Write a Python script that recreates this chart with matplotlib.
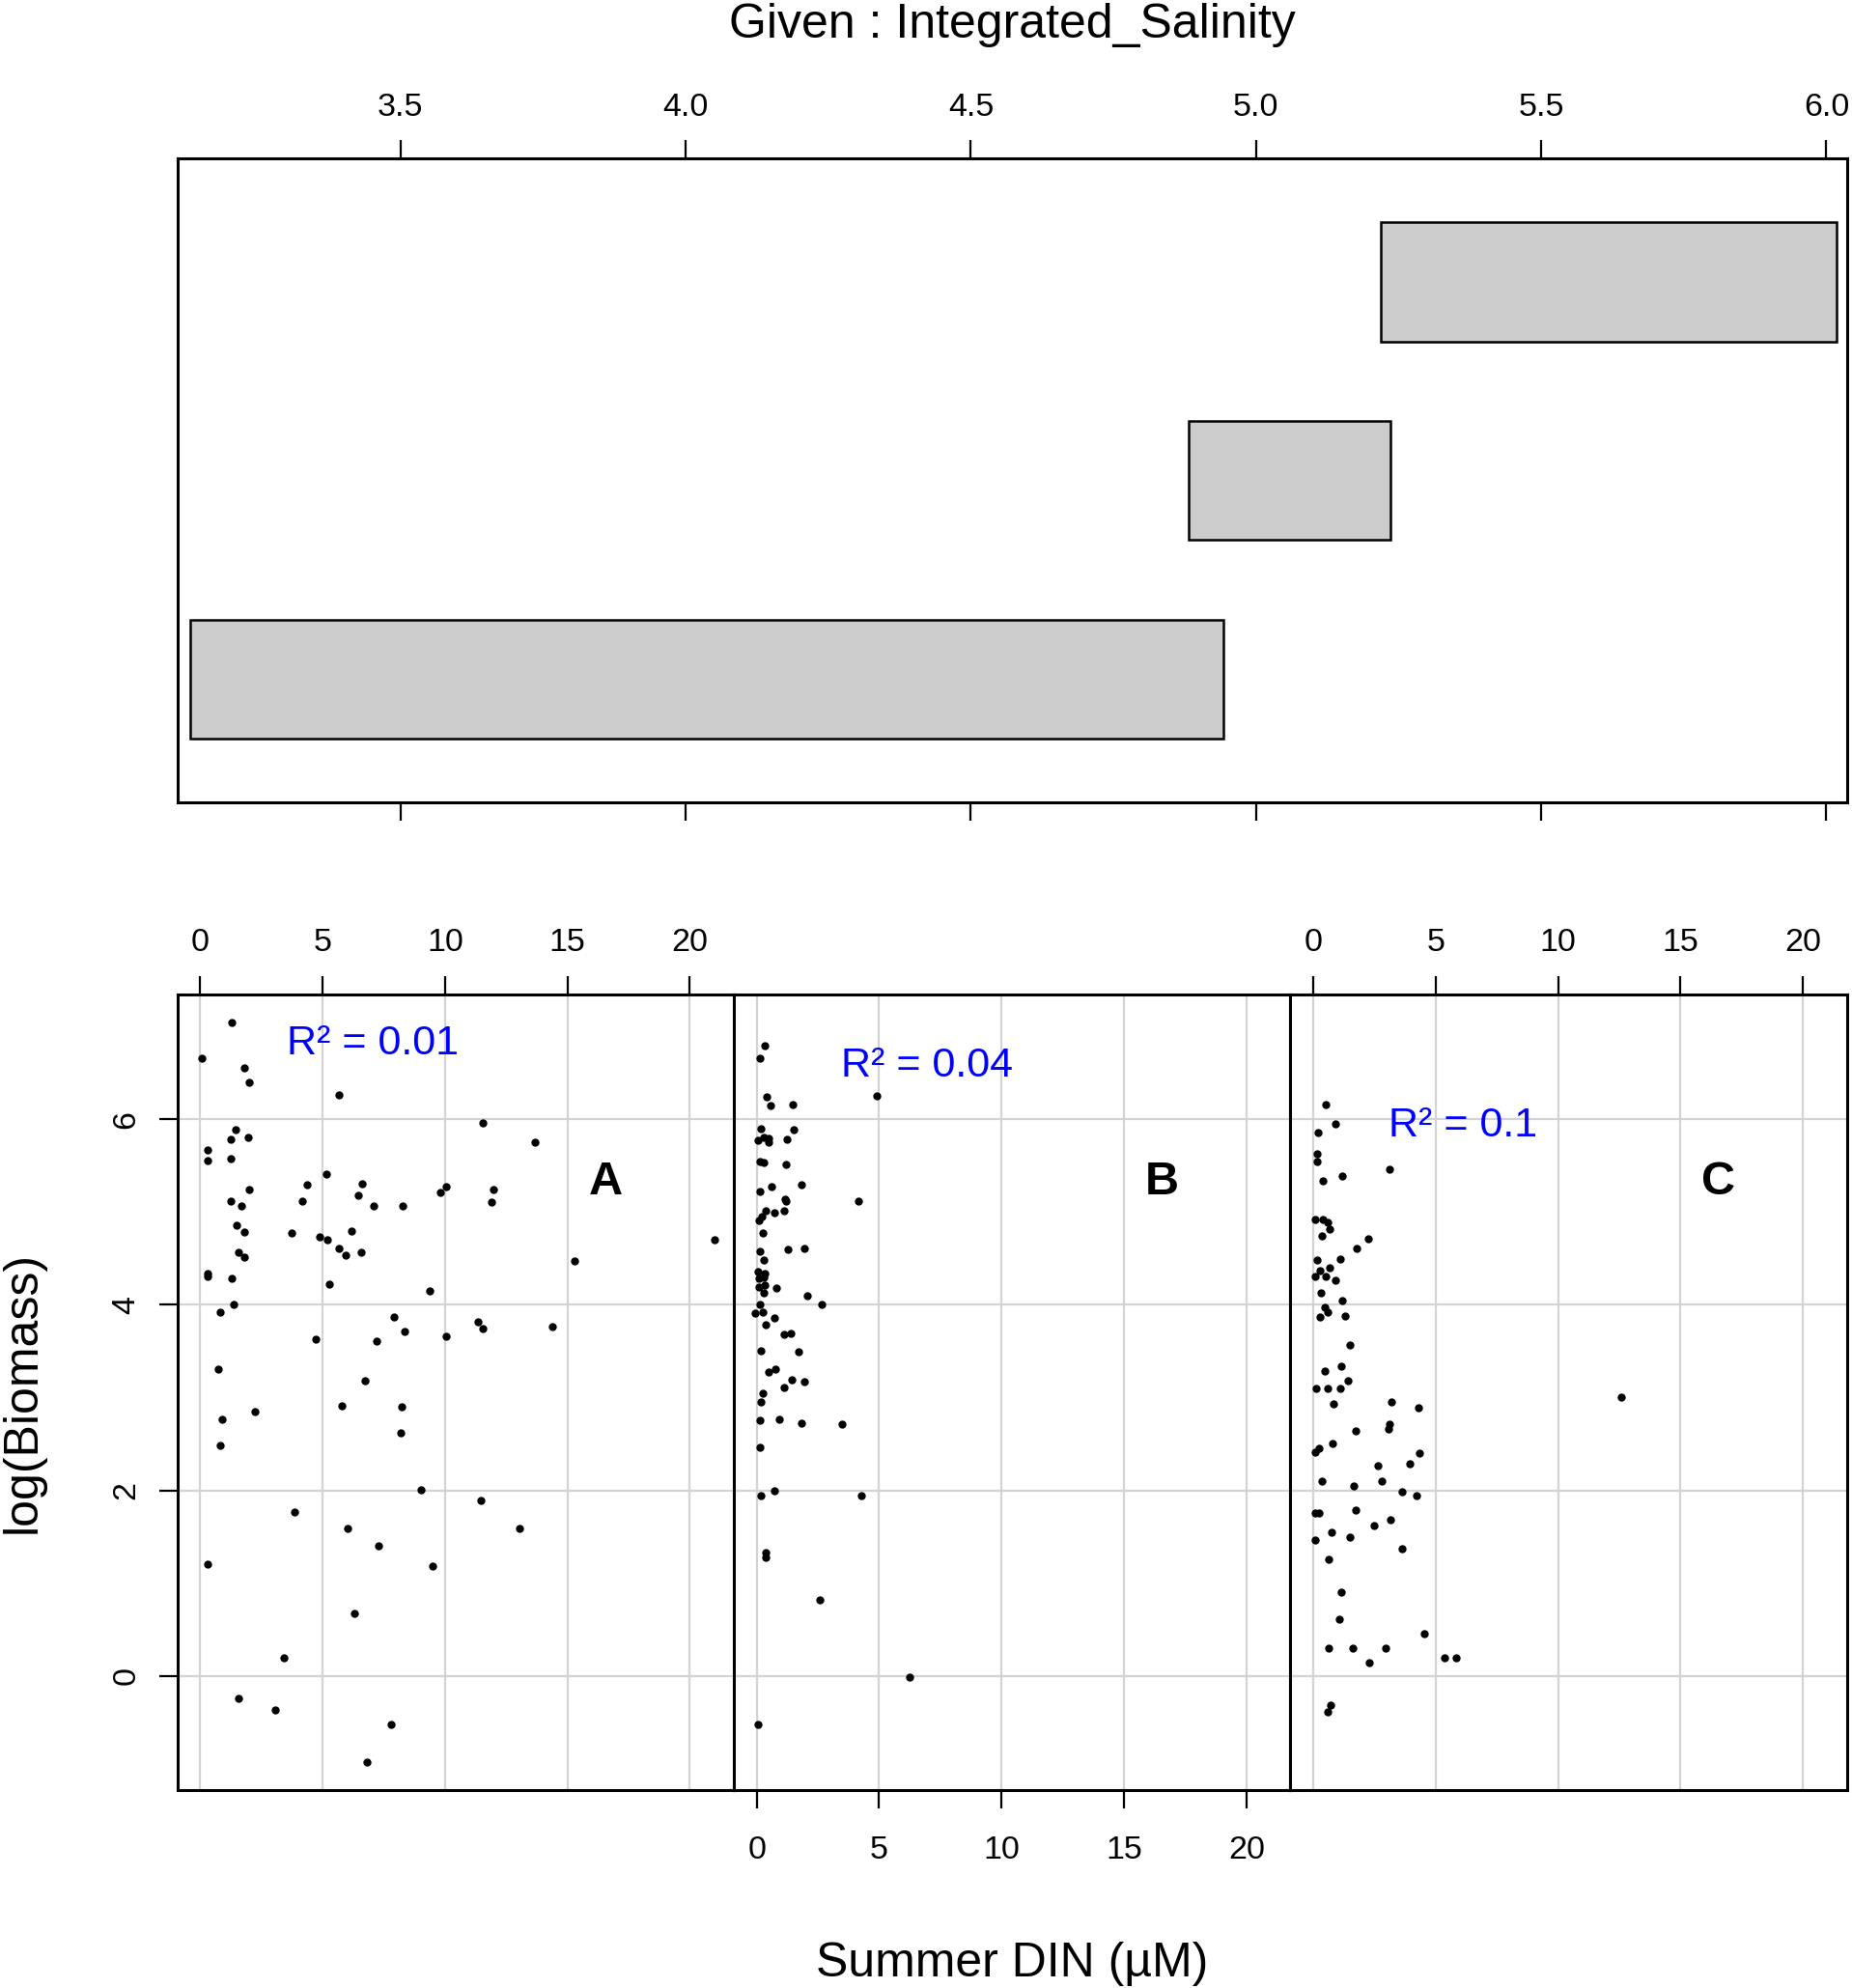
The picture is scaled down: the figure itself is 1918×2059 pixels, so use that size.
import matplotlib
matplotlib.use("Agg")
import matplotlib.pyplot as plt
import numpy as np

plt.rcParams['font.family'] = ['Liberation Sans', 'DejaVu Sans']

# conditioning intervals of Integrated_Salinity (bottom -> top bar)
sal_low = [3.131, 4.882, 5.218]
sal_high = [4.942, 5.236, 6.017]

# panel A (lowest salinity interval)
a_din = [1.30, 0.07, 1.78, 1.99, 5.65, 11.53, 13.66, 1.46, 1.94, 1.23, 0.29, 0.32, 1.23,
         5.14, 4.38, 6.63, 1.99, 10.04, 9.79, 11.96, 11.89, 6.44, 4.15, 1.23, 1.67, 7.10,
         8.28, 1.50, 1.78, 3.73, 4.88, 5.19, 6.19, 21.01, 5.68, 5.93, 6.56, 1.58, 1.81,
         15.28, 0.32, 0.32, 1.27, 5.26, 9.36, 1.37, 0.82, 7.93, 8.33, 11.34, 11.53, 14.40,
         10.04, 4.73, 7.19, 0.72, 6.71, 0.91, 2.25, 0.82, 5.80, 8.21, 8.17, 9.00, 11.45,
         3.87, 6.00, 13.05, 7.30, 0.32, 9.48, 6.28, 3.43, 1.55, 3.08, 7.79, 6.79]
a_biomass = [7.04, 6.66, 6.55, 6.40, 6.26, 5.96, 5.75, 5.89, 5.81, 5.78, 5.67, 5.56, 5.58,
             5.41, 5.29, 5.31, 5.24, 5.27, 5.21, 5.24, 5.11, 5.18, 5.12, 5.12, 5.07, 5.07,
             5.07, 4.86, 4.79, 4.78, 4.73, 4.70, 4.80, 4.70, 4.61, 4.54, 4.57, 4.57, 4.51,
             4.47, 4.34, 4.31, 4.29, 4.22, 4.15, 4.00, 3.92, 3.87, 3.71, 3.82, 3.75, 3.77,
             3.66, 3.63, 3.61, 3.31, 3.18, 2.77, 2.85, 2.49, 2.91, 2.90, 2.62, 2.01, 1.89,
             1.77, 1.59, 1.59, 1.40, 1.21, 1.19, 0.68, 0.20, -0.24, -0.36, -0.52, -0.93]

# panel B (middle interval)
b_din = [0.31, 0.12, 0.41, 0.56, 1.49, 4.92, 0.16, 1.50, 0.04, 0.29, 0.49, 0.47, 1.25,
         0.12, 0.29, 1.18, 1.81, 0.62, 0.13, 1.15, 1.21, 4.14, 0.35, 0.71, 1.10, 0.21,
         0.09, 0.24, 0.12, 1.27, 1.96, 0.28, 0.04, 0.31, 0.09, 0.27, 0.09, 0.31, 0.80,
         0.29, 2.05, 2.65, 0.12, -0.06, 0.24, 0.71, 0.35, 1.13, 1.41, 0.16, 1.69, 0.47,
         0.75, 1.43, 1.93, 1.13, 0.24, 0.16, 0.12, 0.90, 1.84, 3.48, 0.12, 0.71, 0.16,
         4.26, 0.38, 0.35, 2.56, 6.23, 0.07]
b_biomass = [6.79, 6.66, 6.24, 6.15, 6.16, 6.25, 5.90, 5.89, 5.77, 5.80, 5.79, 5.75, 5.78,
             5.55, 5.53, 5.51, 5.30, 5.27, 5.22, 5.14, 5.12, 5.12, 5.01, 4.99, 5.01, 4.95,
             4.91, 4.78, 4.58, 4.60, 4.61, 4.48, 4.36, 4.34, 4.29, 4.30, 4.19, 4.21, 4.18,
             4.13, 4.10, 4.01, 4.00, 3.91, 3.92, 3.86, 3.79, 3.68, 3.69, 3.51, 3.49, 3.28,
             3.31, 3.19, 3.17, 3.11, 3.05, 2.95, 2.76, 2.77, 2.73, 2.72, 2.46, 2.00, 1.94,
             1.95, 1.33, 1.28, 0.82, -0.01, -0.52]

# panel C (highest interval)
c_din = [0.52, 0.89, 0.21, 0.16, 0.16, 3.12, 1.18, 0.40, 0.09, 0.41, 0.59, 0.68, 0.36,
         2.26, 1.79, 0.16, 1.11, 0.68, 0.28, 0.09, 0.53, 0.89, 0.33, 1.20, 0.49, 0.61,
         0.28, 1.32, 1.48, 0.46, 1.15, 0.13, 0.61, 1.11, 1.41, 12.60, 0.84, 3.21, 4.31,
         1.72, 3.12, 3.08, 0.80, 0.09, 0.25, 4.35, 2.65, 3.95, 0.36, 1.67, 2.81, 3.64,
         4.23, 0.09, 0.22, 1.72, 2.50, 3.17, 0.75, 1.51, 0.09, 3.64, 0.64, 1.15, 1.08,
         4.52, 0.64, 1.63, 2.95, 2.29, 5.37, 5.85, 0.71, 0.59]
c_biomass = [6.16, 5.95, 5.86, 5.63, 5.54, 5.46, 5.39, 5.34, 4.92, 4.92, 4.89, 4.82, 4.74,
             4.71, 4.61, 4.48, 4.49, 4.40, 4.37, 4.31, 4.31, 4.26, 4.13, 4.05, 3.97, 3.92,
             3.87, 3.88, 3.57, 3.29, 3.34, 3.10, 3.10, 3.10, 3.18, 3.01, 2.93, 2.95, 2.89,
             2.64, 2.71, 2.66, 2.51, 2.41, 2.45, 2.40, 2.27, 2.29, 2.10, 2.05, 2.10, 1.99,
             1.95, 1.76, 1.76, 1.79, 1.62, 1.68, 1.55, 1.50, 1.47, 1.37, 1.26, 0.90, 0.61,
             0.46, 0.30, 0.30, 0.30, 0.15, 0.20, 0.20, -0.31, -0.39]

panel_names = ['A', 'B', 'C']
r2_labels = ['R\u00b2 = 0.01', 'R\u00b2 = 0.04', 'R\u00b2 = 0.1']
r2_pos = [(7.06, 6.81), (6.95, 6.57), (6.12, 5.93)]

W, H = 1918, 2059
fig = plt.figure(figsize=(W / 100, H / 100), dpi=100)

frame_lw = 2.2
tick_kw = dict(length=14, width=1.6, labelsize=24.5, pad=13, direction='out')

# --- given panel (salinity intervals) ---
left, right = 140 / 1461, 1457 / 1461
ax0 = fig.add_axes([left, 1 - 633 / 1568, right - left, (633 - 125) / 1568])
ax0.barh(np.arange(1, 4), np.array(sal_high) - np.array(sal_low), left=sal_low,
         height=0.6, color='#CCCCCC', edgecolor='black', linewidth=1.8)
ax0.set_xlim(3.109, 6.036)
ax0.set_ylim(0.38, 3.62)
ax0.set_yticks([])
ax0.set_xticks([3.5, 4.0, 4.5, 5.0, 5.5, 6.0])
ax0.xaxis.set_ticks_position('both')
ax0.tick_params(axis='x', labeltop=True, labelbottom=False, **tick_kw)
for s in ax0.spines.values():
    s.set_linewidth(frame_lw)
fig.text(0.5 * (left + right), 1 - 20 / 1568, 'Given : Integrated_Salinity',
         ha='center', va='center', fontsize=36)

# --- dependence panels ---
datasets = [(a_din, a_biomass), (b_din, b_biomass), (c_din, c_biomass)]
pw = (1457 - 140) / 3
for i, (din, bio) in enumerate(datasets):
    x0 = (140 + i * pw) / 1461
    ax = fig.add_axes([x0, 1 - 1412 / 1568, pw / 1461, (1412 - 784) / 1568])
    ax.set_axisbelow(True)
    ax.grid(True, color='#D3D3D3', linewidth=1.6)
    ax.plot(din, bio, 'o', color='black', markersize=6, markeredgewidth=0)
    ax.set_xlim(-0.93, 21.8)
    ax.set_ylim(-1.23, 7.35)
    ax.set_xticks([0, 5, 10, 15, 20])
    ax.set_yticks([0, 2, 4, 6])
    for s in ax.spines.values():
        s.set_linewidth(frame_lw)
    if i == 1:
        kw = dict(tick_kw, pad=20)
        ax.tick_params(axis='x', top=False, bottom=True, labeltop=False,
                       labelbottom=True, **kw)
    else:
        ax.tick_params(axis='x', top=True, bottom=False, labeltop=True,
                       labelbottom=False, **tick_kw)
    if i == 0:
        ax.tick_params(axis='y', left=True, labelleft=True, **tick_kw)
        for lab in ax.get_yticklabels():
            lab.set_rotation(90)
            lab.set_va('center')
    else:
        ax.tick_params(axis='y', left=False, labelleft=False)
    ax.text(16.55, 5.32, panel_names[i], fontsize=35, fontweight='bold',
            ha='center', va='center')
    ax.text(r2_pos[i][0], r2_pos[i][1], r2_labels[i], fontsize=31, color='blue',
            ha='center', va='center')

fig.text(798.5 / 1461, 1 - 1549 / 1568, 'Summer DIN (\u00b5M)', ha='center',
         va='center', fontsize=36)
fig.text(18 / 1461, 1 - 1098 / 1568, 'log(Biomass)', ha='center', va='center',
         fontsize=36, rotation=90)

fig.savefig('out.png', dpi=100)
